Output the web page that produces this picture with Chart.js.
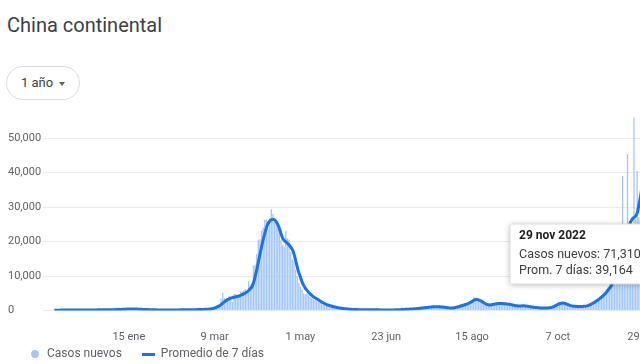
<!DOCTYPE html>
<html>
<head>
<meta charset="utf-8">
<script src="https://cdn.jsdelivr.net/npm/chart.js@4/dist/chart.umd.min.js"></script>
<style>
  html, body { margin: 0; padding: 0; width: 640px; height: 364px; overflow: hidden; background: #fff; font-family: Roboto, Arial, sans-serif; }
  #titulo { position: absolute; left: 7px; top: 13px; font-size: 20px; line-height: 24px; color: #3c4043; white-space: nowrap; }
  #rango { position: absolute; left: 6px; top: 66px; width: 74px; height: 34px; box-sizing: border-box; border: 1px solid #dadce0; border-radius: 17px; }
  #rango span { position: absolute; left: 14px; top: 8px; font-size: 13px; line-height: 16px; color: #3c4043; }
  #rango i { position: absolute; left: 52px; top: 15px; width: 0; height: 0; border-left: 3.5px solid transparent; border-right: 3.5px solid transparent; border-top: 4px solid #5f6368; }
  #grafico { position: absolute; left: 0; top: 100px; }
</style>
</head>
<body>
<div id="titulo">China continental</div>
<div id="rango"><span>1 año</span><i></i></div>
<canvas id="grafico" width="680" height="287"></canvas>
<script>
// datos diarios desde el 30 nov 2021 hasta el 29 nov 2022
var fechaInicio = Date.UTC(2021, 10, 30);
var mesesCortos = ['ene', 'feb', 'mar', 'abr', 'may', 'jun', 'jul', 'ago', 'sep', 'oct', 'nov', 'dic'];
var nombresSeries = ['Casos nuevos', 'Promedio de 7 días'];
var nombresTooltip = ['Casos nuevos', 'Prom. 7 días'];
var fechasEje = ['2022-01-15', '2022-03-09', '2022-05-01', '2022-06-23', '2022-08-15', '2022-10-07', '2022-11-29'];
var marcasY = [0, 10000, 20000, 30000, 40000, 50000];

var casosNuevos = [
  90,
  // dic
  100, 95, 110, 120, 105, 130, 125, 110, 100, 115, 120, 135, 140, 150, 145, 140, 130, 125, 115, 110, 125, 140, 160, 170, 190, 205, 215, 230, 225, 235, 220,
  // ene
  210, 225, 215, 230, 240, 260, 270, 290, 310, 330, 350, 380, 400, 430, 450, 460, 440, 430, 410, 390, 360, 330, 310, 290, 270, 250, 240, 220, 200, 190, 180,
  // feb
  170, 160, 155, 160, 150, 160, 165, 160, 170, 160, 165, 170, 175, 180, 185, 190, 185, 195, 190, 200, 210, 215, 225, 235, 250, 260, 280, 300,
  // mar
  320, 330, 360, 400, 450, 520, 600, 700, 900, 1200, 1500, 1900, 3400, 5200, 3600, 3300, 2900, 4300, 4000, 2500, 4700, 4800, 3900, 4400, 5600, 5500, 5900, 6200, 5600, 8600, 7500,
  // abr
  8000, 13000, 13300, 16400, 20500, 20700, 23200, 24100, 26300, 26400, 23800, 26800, 29400, 28000, 26000, 25200, 24000, 23500, 20500, 19000, 18500, 23000, 21000, 20500, 17000, 15000, 14500, 11800, 10000, 8000,
  // may
  7000, 6000, 5000, 4700, 4800, 4400, 3900, 3600, 3300, 3000, 2800, 2500, 2200, 2000, 1700, 1500, 1300, 1200, 1100, 1000, 900, 800, 700, 650, 600, 520, 480, 430, 390, 360, 330,
  // jun
  300, 280, 260, 250, 240, 230, 220, 210, 200, 200, 210, 220, 200, 190, 200, 210, 190, 180, 170, 160, 150, 150, 145, 150, 160, 165, 175, 190, 200, 220,
  // jul
  240, 260, 290, 320, 350, 380, 400, 440, 470, 500, 540, 580, 620, 680, 720, 780, 830, 890, 950, 1000, 1060, 1100, 1120, 1140, 1100, 1060, 1000, 950, 900, 850, 780,
  // ago
  700, 750, 800, 900, 1000, 1150, 1300, 1500, 1600, 1800, 1900, 2100, 2300, 2600, 3000, 3900, 3600, 3700, 3100, 2800, 2500, 2200, 1900, 1700, 1600, 1500, 1700, 1900, 2000, 2100, 2100,
  // sep
  2100, 2000, 1950, 1900, 1850, 1800, 1700, 1600, 1500, 1400, 1300, 1250, 1300, 1400, 1350, 1300, 1250, 1200, 1100, 1000, 950, 900, 850, 800, 760, 730, 700, 700, 720, 740,
  // oct
  800, 850, 950, 1100, 1350, 1600, 1900, 2100, 2200, 2300, 2100, 1900, 1700, 1500, 1350, 1250, 1200, 1150, 1150, 1150, 1200, 1200, 1250, 1300, 1450, 1650, 1900, 2200, 2500, 2900, 3200,
  // nov
  3500, 4000, 4500, 5000, 5600, 6200, 6900, 7700, 8500, 9500, 10600, 11900, 13300, 14800, 16500, 39000, 18500, 20000, 45400, 21500, 22500, 24000, 56500, 26500, 40500, 27000, 26000, 26338, 71310
];

var promedio7 = [
  100,
  // dic
  100, 100, 105, 110, 115, 120, 120, 118, 115, 115, 120, 125, 130, 135, 140, 142, 140, 135, 128, 122, 120, 125, 135, 150, 165, 180, 195, 210, 220, 225, 228,
  // ene
  225, 222, 220, 222, 228, 240, 255, 270, 290, 310, 330, 350, 375, 400, 420, 435, 440, 438, 430, 415, 395, 370, 345, 320, 298, 278, 260, 242, 225, 210, 198,
  // feb
  186, 176, 168, 162, 158, 158, 160, 162, 163, 163, 164, 166, 170, 175, 180, 184, 187, 190, 193, 197, 202, 208, 215, 224, 235, 248, 262, 278,
  // mar
  295, 310, 330, 360, 400, 450, 520, 610, 730, 900, 1100, 1350, 1700, 2100, 2500, 2850, 3150, 3400, 3600, 3750, 3850, 3950, 4050, 4200, 4400, 4600, 4850, 5100, 5400, 5800, 6300,
  // abr
  6800, 8000, 9800, 11800, 14000, 16300, 18500, 20600, 22400, 24000, 25200, 25900, 26300, 26500, 26300, 25800, 25000, 23800, 22300, 21000, 20300, 19900, 19500, 19000, 18400, 17700, 16400, 14600, 12700, 11000,
  // may
  9700, 8300, 7300, 6500, 5900, 5300, 4800, 4400, 4000, 3700, 3400, 3100, 2800, 2500, 2250, 2000, 1800, 1600, 1450, 1300, 1170, 1050, 940, 840, 750, 670, 600, 540, 480, 430, 390,
  // jun
  350, 320, 300, 280, 260, 245, 230, 220, 210, 205, 200, 200, 205, 210, 210, 205, 200, 190, 180, 170, 160, 155, 150, 150, 155, 160, 170, 180, 195, 210,
  // jul
  230, 250, 275, 300, 330, 360, 390, 420, 450, 480, 520, 560, 600, 650, 700, 750, 800, 860, 920, 980, 1030, 1070, 1100, 1110, 1100, 1080, 1040, 990, 930, 870, 810,
  // ago
  750, 720, 740, 800, 900, 1000, 1150, 1300, 1450, 1600, 1750, 1900, 2100, 2350, 2650, 2950, 3150, 3200, 3100, 2900, 2650, 2350, 2050, 1800, 1650, 1600, 1650, 1750, 1850, 1950, 2000,
  // sep
  2050, 2050, 2000, 1950, 1900, 1850, 1800, 1700, 1600, 1500, 1400, 1350, 1300, 1300, 1350, 1350, 1300, 1250, 1200, 1100, 1000, 950, 900, 850, 800, 760, 730, 720, 720, 730,
  // oct
  760, 800, 900, 1050, 1250, 1500, 1750, 1950, 2100, 2150, 2100, 1950, 1750, 1550, 1400, 1300, 1250, 1200, 1180, 1170, 1170, 1180, 1200, 1250, 1350, 1500, 1700, 1950, 2200, 2500, 2800,
  // nov
  3150, 3500, 3900, 4300, 4800, 5300, 5900, 6500, 7200, 8000, 9000, 10200, 11900, 13600, 15000, 16500, 17800, 19100, 22000, 24500, 25800, 26500, 27000, 27400, 28300, 30500, 33000, 36000, 39164
];

var colorBarras = '#a3c6f7';
var colorLinea = '#1a73e8';
var DIA = 86400000;

function diasDesdeInicio(iso) {
  return Math.round((Date.parse(iso) - fechaInicio) / DIA);
}

function textoFecha(i) {
  var d = new Date(fechaInicio + i * DIA);
  return d.getUTCDate() + ' ' + mesesCortos[d.getUTCMonth()] + ' ' + d.getUTCFullYear();
}

function etiquetaEje(iso) {
  var d = new Date(Date.parse(iso));
  return d.getUTCDate() + ' ' + mesesCortos[d.getUTCMonth()];
}

function numero(v) {
  return Math.round(v).toLocaleString('en-US');
}

// marca de la leyenda para la linea
var marcaLinea = document.createElement('canvas');
marcaLinea.width = 13;
marcaLinea.height = 3;
var mctx = marcaLinea.getContext('2d');
mctx.fillStyle = colorLinea;
mctx.fillRect(0, 0, 13, 3);

Chart.Tooltip.positioners.fijo = function(items) {
  if (!items.length) return false;
  return { x: items[0].element.x - 135, y: 254 - 100 };
};

var sombra = {
  id: 'sombra',
  beforeTooltipDraw: function(chart, args) {
    var t = args.tooltip;
    var c = chart.ctx;
    c.save();
    c.shadowColor = 'rgba(0,0,0,0.28)';
    c.shadowBlur = 6;
    c.shadowOffsetY = 1;
    c.fillStyle = '#fff';
    c.fillRect(t.x, t.y, t.width, t.height);
    c.restore();
  }
};

// sube la leyenda para que quede pegada a las etiquetas del eje
var subirLeyenda = {
  id: 'subirLeyenda',
  afterLayout: function(chart) {
    chart.legend.top -= 17;
    chart.legend.bottom -= 17;
  }
};

var fuente = 'Roboto, Arial, sans-serif';

var grafico = new Chart(document.getElementById('grafico'), {
  type: 'bar',
  data: {
    datasets: [{
      type: 'bar',
      label: nombresSeries[0],
      data: casosNuevos.map(function(v, i) { return { x: i, y: v }; }),
      backgroundColor: colorBarras,
      borderWidth: 0,
      barPercentage: 1,
      categoryPercentage: 0.8,
      order: 1
    }, {
      type: 'line',
      label: nombresSeries[1],
      data: promedio7.map(function(v, i) { return { x: i, y: v }; }),
      borderColor: colorLinea,
      backgroundColor: colorLinea,
      borderWidth: 3,
      pointRadius: 0,
      pointHoverRadius: 0,
      tension: 0.3,
      order: 0
    }]
  },
  options: {
    responsive: false,
    animation: false,
    events: [],
    layout: { padding: { left: 8, top: 17.5, right: 0, bottom: 0 } },
    scales: {
      x: {
        type: 'linear',
        offset: false,
        min: -7,
        max: 385.5,
        grid: { display: false },
        border: { display: false },
        afterBuildTicks: function(s) {
          s.ticks = fechasEje.map(function(f) { return { value: diasDesdeInicio(f) }; });
        },
        afterFit: function(s) { s.height = 33.5; },
        ticks: {
          autoSkip: false,
          maxRotation: 0,
          padding: 12,
          color: '#5f6368',
          font: { family: fuente, size: 11 },
          callback: function(v, i) { return etiquetaEje(fechasEje[i]); }
        }
      },
      y: {
        min: 0,
        max: 56000,
        afterBuildTicks: function(s) {
          s.ticks = marcasY.map(function(v) { return { value: v }; });
        },
        afterFit: function(s) { s.width = 35; },
        grid: { color: '#ebebeb', drawTicks: false },
        border: { display: false },
        ticks: {
          crossAlign: 'far',
          color: '#5f6368',
          font: { family: fuente, size: 11 },
          callback: function(v) { return numero(v); }
        }
      }
    },
    plugins: {
      legend: {
        position: 'bottom',
        align: 'start',
        labels: {
          usePointStyle: true,
          boxWidth: 12,
          boxHeight: 5.5,
          padding: 21,
          color: '#5f6368',
          font: { family: fuente, size: 12 },
          sort: function(a, b) { return a.datasetIndex - b.datasetIndex; },
          generateLabels: function(chart) {
            var items = Chart.defaults.plugins.legend.labels.generateLabels(chart);
            items.forEach(function(it) {
              if (it.datasetIndex === 0) {
                it.pointStyle = 'circle';
                it.fillStyle = colorBarras;
                it.strokeStyle = colorBarras;
                it.lineWidth = 0;
              } else {
                it.pointStyle = marcaLinea;
              }
            });
            return items;
          }
        }
      },
      tooltip: {
        position: 'fijo',
        xAlign: 'left',
        yAlign: 'center',
        caretSize: 0,
        caretPadding: 0,
        cornerRadius: 2,
        backgroundColor: '#fff',
        borderColor: '#e0e0e0',
        borderWidth: 1,
        displayColors: false,
        titleColor: '#202124',
        titleFont: { family: fuente, size: 12, weight: 'bold' },
        titleMarginBottom: 4,
        bodyColor: '#3c4043',
        bodyFont: { family: fuente, size: 12.5 },
        bodySpacing: 1,
        padding: { left: 9, right: 9, top: 5, bottom: 5.5 },
        itemSort: function(a, b) { return a.datasetIndex - b.datasetIndex; },
        callbacks: {
          title: function(items) { return textoFecha(items[0].dataIndex); },
          label: function(item) { return nombresTooltip[item.datasetIndex] + ': ' + numero(item.parsed.y); }
        }
      }
    }
  },
  plugins: [sombra, subirLeyenda]
});

var ultimo = casosNuevos.length - 1;
grafico.tooltip.setActiveElements([
  { datasetIndex: 0, index: ultimo },
  { datasetIndex: 1, index: ultimo }
], { x: 0, y: 0 });
grafico.update();
</script>
</body>
</html>
